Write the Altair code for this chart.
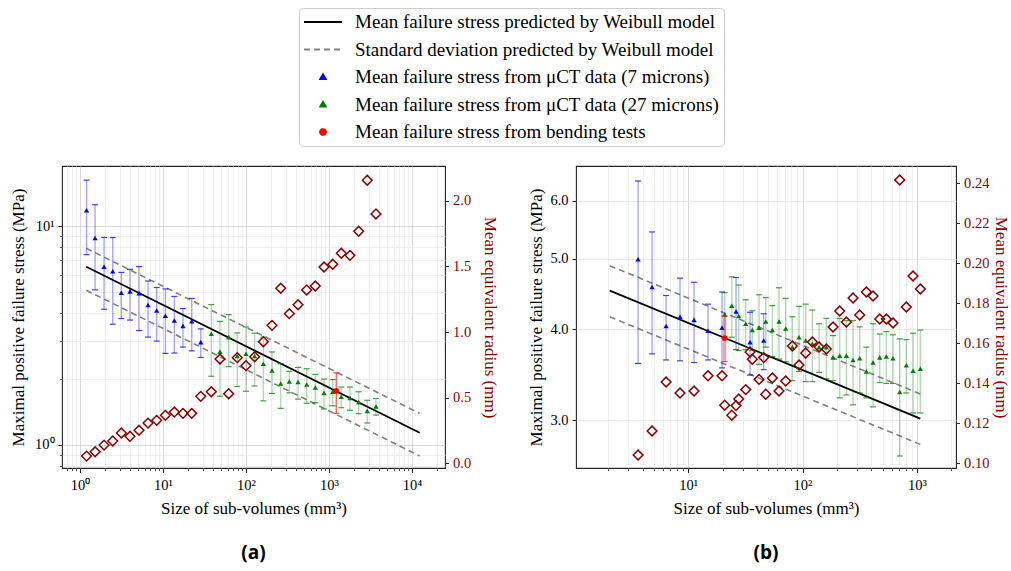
import altair as alt
import pandas as pd

SERIF = "Liberation Serif"
SANS = "Open Sans"
DARKRED = "#8b0000"
MAJOR_GRID = "#cfcfcf"
MINOR_GRID = "#ebebeb"
FRAME = "#262626"

# ---------------- Panel (a) ----------------
a_blue_size = [1.20, 1.52, 1.95, 2.48, 3.15, 4.00, 5.14, 6.60, 8.40, 10.7, 13.7, 17.4, 22.2, 28.5]
a_blue_mean = [11.8, 8.81, 6.52, 6.21, 4.96, 5.03, 4.93, 4.36, 4.11, 3.89, 3.70, 3.50, 3.68, 2.95]
a_blue_std = [4.40, 3.70, 2.35, 2.65, 1.18, 1.31, 1.60, 1.25, 1.13, 1.27, 1.07, 0.70, 0.99, 0.44]
a_blue_radius = [0.053, 0.086, 0.137, 0.168, 0.229, 0.204, 0.250, 0.305, 0.326, 0.364, 0.389, 0.379, 0.379, 0.509]

a_green_size = [38.2, 48.6, 61.9, 78.5, 100, 127, 162, 206, 262, 333, 424, 539, 684, 871, 1109, 1407, 1790, 2279, 2893, 3683]
a_green_mean = [3.22, 2.67, 3.11, 2.55, 2.61, 2.55, 2.35, 2.19, 1.91, 1.95, 1.94, 1.89, 1.83, 1.73, 1.75, 1.66, 1.64, 1.57, 1.43, 1.50]
a_green_std = [1.16, 1.00, 0.83, 0.70, 0.85, 0.69, 0.76, 0.47, 0.44, 0.22, 0.32, 0.34, 0.27, 0.27, 0.24, 0.18, 0.20, 0.18, 0.17, 0.13]
a_green_radius = [0.544, 0.794, 0.529, 0.804, 0.743, 0.811, 0.926, 1.051, 1.334, 1.140, 1.208, 1.321, 1.351, 1.496, 1.517, 1.601, 1.585, 1.769, 2.158, 1.901]

a_bend_size = [1225]
a_bend_mean = [1.765]
a_bend_std = [0.37]

a_model_size = [1.19, 12380]
a_model_mean = [6.52, 1.138]
a_model_upper = [7.91, 1.395]
a_model_lower = [5.09, 0.891]

# ---------------- Panel (b) ----------------
b_blue_size = [3.66, 4.85, 6.43, 8.51, 11.28, 14.95, 19.81, 26.26, 34.8, 45.8]
b_blue_mean = [4.99, 4.57, 4.04, 4.16, 4.12, 3.98, 4.02, 4.23, 3.84, 3.86]
b_blue_std = [1.40, 0.87, 0.41, 0.54, 0.52, 0.35, 0.48, 0.48, 0.38, 0.34]
b_blue_radius = [0.104, 0.116, 0.1405, 0.135, 0.136, 0.1436, 0.1436, 0.1287, 0.1555, 0.1527]

b_green_size = [20.9, 24.1, 27.7, 31.9, 36.4, 41.7, 47.7, 54.5, 62.3, 71.3,
                81.5, 93.2, 106.6, 121.8, 139.4, 161.4, 184.7, 211.3, 241.3, 276.1,
                315.9, 360.8, 412.8, 472.3, 539.4, 617.1, 706.2, 806.3, 922.7, 1069]
b_green_mean = [4.19, 4.31, 4.17, 4.07, 3.99, 4.02, 4.10, 3.99, 4.10, 4.01,
                3.78, 3.90, 3.86, 3.82, 3.78, 3.78, 3.66, 3.68, 3.68, 3.63,
                3.65, 3.50, 3.60, 3.66, 3.67, 3.65, 3.28, 3.57, 3.51, 3.53]
b_green_std = [0.30, 0.41, 0.43, 0.32, 0.25, 0.44, 0.32, 0.32, 0.46, 0.40,
               0.38, 0.40, 0.47, 0.43, 0.29, 0.36, 0.26, 0.46, 0.43, 0.48,
               0.38, 0.28, 0.47, 0.28, 0.30, 0.28, 0.60, 0.30, 0.44, 0.46]
b_green_radius = [0.1289, 0.1239, 0.1320, 0.1367, 0.1519, 0.1418, 0.1344, 0.1425, 0.1360, 0.1410,
                  0.1585, 0.1490, 0.1550, 0.1605, 0.1580, 0.1570, 0.1680, 0.1760, 0.1705, 0.1825,
                  0.1740, 0.1855, 0.1835, 0.1720, 0.1720, 0.1700, 0.2415, 0.1780, 0.1935, 0.1870]

b_bend_size = [20.9]
b_bend_mean = [3.89]
b_bend_std = [0.28]

b_model_size = [2.07, 1069]
b_model_mean = [4.52, 3.016]
b_model_upper = [4.89, 3.26]
b_model_lower = [4.16, 2.78]

# ---------------- Legend ----------------
leg_labels = [
    "Mean failure stress predicted by Weibull model",
    "Standard deviation predicted by Weibull model",
    "Mean failure stress from μCT data (7 microns)",
    "Mean failure stress from μCT data (27 microns)",
    "Mean failure stress from bending tests",
]
leg_colors = ["black", "gray", "blue", "green", "red"]
LINE = "M-1,0L1,0"
TRI = "M0,-0.13L0.14,0.1L-0.14,0.1Z"
CIRC = "M-0.15,0A0.15,0.15,0,1,0,0.15,0A0.15,0.15,0,1,0,-0.15,0Z"
leg_shapes = [LINE, LINE, TRI, TRI, CIRC]
leg_dashes = [[1, 0], [6, 4], [1, 0], [1, 0], [1, 0]]

SUP = ("datum.value == 1 ? '10⁰' : datum.value == 10 ? '10¹' : "
       "datum.value == 100 ? '10²' : datum.value == 1000 ? '10³' : '10⁴'")


def series_df(size, mean, std):
    df = pd.DataFrame({"size": size, "mean": mean, "std": std})
    df["lo"] = df["mean"] - df["std"]
    df["hi"] = df["mean"] + df["std"]
    return df


def errorbar_layers(df, xs, ys, color, bar_w, bar_op, cap_op, shape, msize):
    base = alt.Chart(df)
    x = alt.X("size:Q", scale=xs, axis=None)
    rule = base.mark_rule(color=color, strokeWidth=bar_w, opacity=bar_op).encode(
        x=x, y=alt.Y("lo:Q", scale=ys, axis=None), y2="hi:Q")
    cap_lo = base.mark_tick(color=color, orient="horizontal", size=6, thickness=1.2,
                            opacity=cap_op).encode(x=x, y=alt.Y("lo:Q", scale=ys, axis=None))
    cap_hi = base.mark_tick(color=color, orient="horizontal", size=6, thickness=1.2,
                            opacity=cap_op).encode(x=x, y=alt.Y("hi:Q", scale=ys, axis=None))
    pts = base.mark_point(shape=shape, filled=True, size=msize, color=color, opacity=1).encode(
        x=x, y=alt.Y("mean:Q", scale=ys, axis=None))
    return [rule, cap_lo, cap_hi, pts]


def make_panel(cfg, blue, green, bend, model, radius_df, title, extra=None):
    xs = alt.Scale(type="log", domain=cfg["xdom"], nice=False)
    ys = alt.Scale(type="log", domain=cfg["ydom"], nice=False)
    rs = alt.Scale(domain=cfg["rdom"], nice=False, zero=False)

    x_major = alt.Axis(orient="bottom", values=cfg["xmaj"], labelExpr=SUP, grid=True,
                       gridColor=MAJOR_GRID, gridWidth=0.8, tickSize=4.5, labelPadding=6,
                       labelFont=SERIF, titleFont=SERIF,
                       title="Size of sub-volumes (mm³)", titlePadding=8)
    x_minor = alt.Axis(orient="bottom", values=cfg["xmin"], labels=False, grid=True,
                       gridColor=MINOR_GRID, gridWidth=0.8, tickSize=2.5, tickWidth=0.8,
                       title=None)
    y_major = alt.Axis(orient="left", values=cfg["ymaj"], grid=True, gridColor=cfg["ygrid"],
                       gridWidth=0.8, tickSize=4, labelPadding=4, titlePadding=cfg["ytp"],
                       labelFont=SERIF, titleFont=SERIF,
                       title="Maximal positive failure stress (MPa)", **cfg["yfmt"])
    if cfg["ymin"]:
        y_minor = alt.Axis(orient="left", values=cfg["ymin"], labels=False, grid=True,
                           gridColor=MINOR_GRID, gridWidth=0.8, tickSize=2.5, tickWidth=0.8,
                           title=None)
    else:
        y_minor = None
    r_axis = alt.Axis(orient="right", values=cfg["rvals"], format=cfg["rfmt"], grid=False,
                      tickSize=3.5, labelPadding=4, labelColor=DARKRED, titleColor=DARKRED,
                      labelFont=SERIF, titleFont=SERIF,
                      title="Mean equivalent radius (mm)", titlePadding=cfg["rtp"])

    mline = alt.Chart(model).mark_line(color="black", strokeWidth=1.8).encode(
        x=alt.X("size:Q", scale=xs, axis=x_major),
        y=alt.Y("mean:Q", scale=ys, axis=y_major))
    uline = alt.Chart(model).mark_line(color="gray", strokeWidth=1.6, strokeDash=[6, 4]).encode(
        x=alt.X("size:Q", scale=xs, axis=x_minor),
        y=alt.Y("upper:Q", scale=ys, axis=y_minor))
    lline = alt.Chart(model).mark_line(color="gray", strokeWidth=1.6, strokeDash=[6, 4]).encode(
        x=alt.X("size:Q", scale=xs, axis=None),
        y=alt.Y("lower:Q", scale=ys, axis=None))

    layers = [mline, uline, lline]
    layers += errorbar_layers(blue, xs, ys, "blue", 1.4, 0.35, 0.75, "triangle-up", 28)
    layers += errorbar_layers(green, xs, ys, "green", 1.4, 0.3, 0.75, "triangle-up", 28)
    layers += errorbar_layers(bend, xs, ys, "red", cfg["bend_w"], cfg["bend_op"], 0.7, "circle", 34)

    diamonds = alt.Chart(radius_df).mark_point(shape="diamond", filled=False, size=95,
                                               strokeWidth=1.5, color=DARKRED, opacity=1).encode(
        x=alt.X("size:Q", scale=xs, axis=None),
        y=alt.Y("radius:Q", scale=rs, axis=r_axis))
    layers.append(diamonds)
    if extra is not None:
        layers.append(extra)

    return alt.layer(*layers).resolve_scale(y="independent").resolve_axis(
        x="independent", y="independent").properties(
        width=cfg["w"], height=cfg["h"],
        title=alt.TitleParams(text=title, orient="bottom", anchor="middle", font=SANS,
                              fontSize=19, fontWeight="bold", color="black", offset=28))


# legend (drawn from the legend label lists only; no marks plotted)
legend = alt.Legend(orient="none", legendX=237, legendY=-158, title=None, fillColor="white",
                    strokeColor="#cccccc", cornerRadius=4, padding=4, labelFont=SERIF,
                    labelFontSize=19, labelColor="black", symbolSize=1444,
                    symbolStrokeWidth=2, clipHeight=20, rowPadding=7.5, labelLimit=800,
                    labelOffset=12)
leg_df = pd.DataFrame({"entry": leg_labels})
legend_layer = alt.Chart(leg_df).mark_point(filled=True, opacity=1).encode(
    fill=alt.Fill("entry:N", scale=alt.Scale(domain=leg_labels, range=leg_colors), legend=legend),
    stroke=alt.Stroke("entry:N", scale=alt.Scale(domain=leg_labels, range=leg_colors), legend=legend),
    shape=alt.Shape("entry:N", scale=alt.Scale(domain=leg_labels, range=leg_shapes), legend=legend),
    strokeDash=alt.StrokeDash("entry:N", scale=alt.Scale(domain=leg_labels, range=leg_dashes),
                              legend=legend),
).transform_filter("false")

a_blue = series_df(a_blue_size, a_blue_mean, a_blue_std)
a_green = series_df(a_green_size, a_green_mean, a_green_std)
a_bend = series_df(a_bend_size, a_bend_mean, a_bend_std)
a_model = pd.DataFrame({"size": a_model_size, "mean": a_model_mean,
                        "upper": a_model_upper, "lower": a_model_lower})
a_rad = pd.DataFrame({"size": a_blue_size + a_green_size, "radius": a_blue_radius + a_green_radius})

b_blue = series_df(b_blue_size, b_blue_mean, b_blue_std)
b_green = series_df(b_green_size, b_green_mean, b_green_std)
b_bend = series_df(b_bend_size, b_bend_mean, b_bend_std)
b_model = pd.DataFrame({"size": b_model_size, "mean": b_model_mean,
                        "upper": b_model_upper, "lower": b_model_lower})
b_rad = pd.DataFrame({"size": b_blue_size + b_green_size, "radius": b_blue_radius + b_green_radius})

cfg_a = dict(xdom=[0.607, 25000], ydom=[0.785, 18.8], rdom=[-0.038, 2.267],
             xmaj=[1, 10, 100, 1000, 10000],
             xmin=[0.7, 0.8, 0.9, 2, 3, 4, 5, 6, 7, 8, 9, 20, 30, 40, 50, 60, 70, 80, 90,
                   200, 300, 400, 500, 600, 700, 800, 900, 2000, 3000, 4000, 5000, 6000,
                   7000, 8000, 9000, 20000],
             ymaj=[1, 10], ymin=[0.8, 0.9, 2, 3, 4, 5, 6, 7, 8, 9], ygrid=MAJOR_GRID,
             yfmt=dict(labelExpr="datum.value == 1 ? '10⁰' : '10¹'"), ytp=7,
             rvals=[0, 0.5, 1.0, 1.5, 2.0], rfmt=".1f", rtp=10,
             bend_w=1.4, bend_op=0.6, w=383, h=302)
cfg_b = dict(xdom=[1.05, 2190], ydom=[2.58, 6.70], rdom=[0.0975, 0.2485],
             xmaj=[10, 100, 1000],
             xmin=[2, 3, 4, 5, 6, 7, 8, 9, 20, 30, 40, 50, 60, 70, 80, 90,
                   200, 300, 400, 500, 600, 700, 800, 900, 2000],
             ymaj=[3, 4, 5, 6], ymin=None, ygrid="#e4e4e4",
             yfmt=dict(format=".1f"), ytp=4,
             rvals=[0.10, 0.12, 0.14, 0.16, 0.18, 0.20, 0.22, 0.24], rfmt=".2f", rtp=3,
             bend_w=3, bend_op=0.4, w=380, h=302)

panel_a = make_panel(cfg_a, a_blue, a_green, a_bend, a_model, a_rad, "(a)", extra=legend_layer)
panel_b = make_panel(cfg_b, b_blue, b_green, b_bend, b_model, b_rad, "(b)")

chart = alt.hconcat(panel_a, panel_b, spacing=27).properties(
    padding={"left": 8, "top": 7, "right": 0, "bottom": 2}
).configure_view(stroke=FRAME, strokeWidth=1.1).configure_axis(
    labelFont=SERIF, titleFont=SERIF, labelFontSize=14.5, titleFontSize=17,
    titleFontWeight="normal", labelColor="black", titleColor="black",
    tickColor=FRAME, tickWidth=1, domain=False
).configure_legend(labelFont=SERIF, labelFontSize=19)

chart.save("out.html", embed_options={"renderer": "svg", "actions": False})
